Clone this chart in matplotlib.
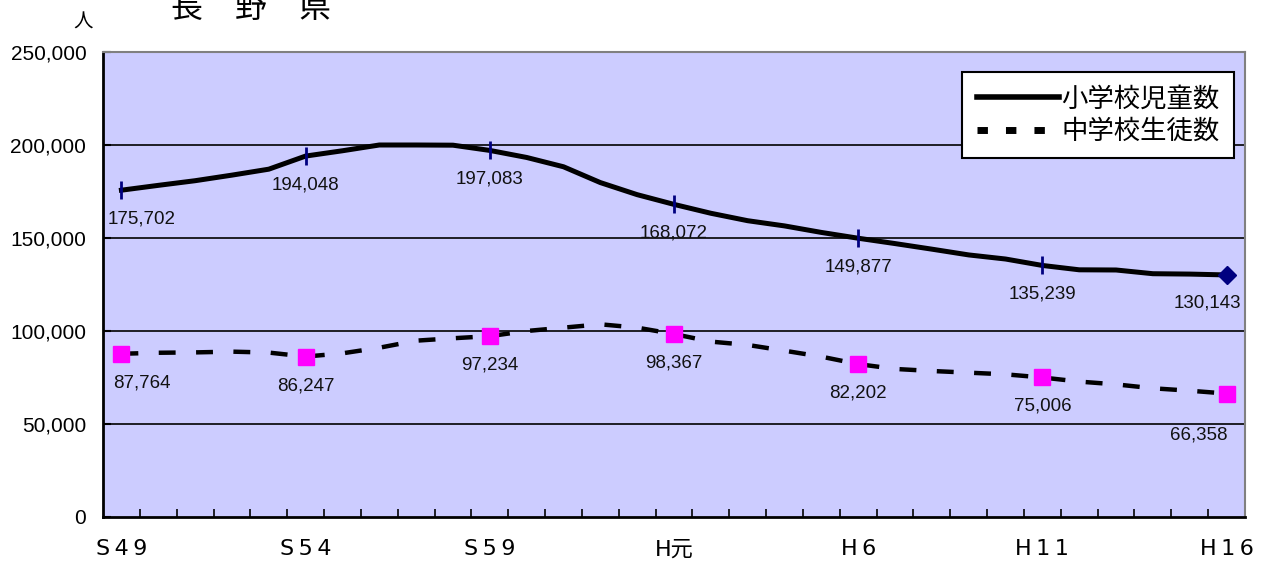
"""Nagano prefecture: elementary / junior high school enrolment, S49-H16."""

import matplotlib

matplotlib.use("Agg")
import matplotlib.pyplot as plt
import numpy as np
from matplotlib.lines import Line2D
from matplotlib.ticker import FuncFormatter

plt.rcParams["font.family"] = ["Liberation Sans", "Noto Sans CJK JP"]

# one value per year, S49 (1974) .. H16 (2004)
elementary = [
    175702, 178300, 180800, 183800, 187000, 194048, 196900, 200000, 200000, 199900,
    197083, 193300, 188300, 179800, 173300, 168072, 163300, 159300, 156500, 153000,
    149877, 147000, 144000, 140900, 138700, 135239, 132900, 132800, 130800, 130600,
    130143,
]
junior = [
    87764, 88300, 88500, 88900, 88400, 86247, 88000, 91000, 94800, 96100,
    97234, 100000, 101800, 103600, 101800, 98367, 94300, 92500, 89400, 86200,
    82202, 79600, 78500, 77600, 76700, 75006, 72800, 71300, 69200, 67900,
    66358,
]
tick_labels = ["S\u20094\u20099", "S\u20095\u20094", "S\u20095\u20099", "H元",
               "H\u20096", "H\u20091\u20091", "H\u20091\u20096"]
series_names = ["小学校児童数", "中学校生徒数"]

W, H = 1265, 562
fig = plt.figure(figsize=(W / 100, H / 100), dpi=100)
ax = fig.add_axes([103 / W, 1 - 517 / H, (1245 - 103) / W, (517 - 52) / H])
ax.set_facecolor("#CCCCFF")

years = np.arange(len(elementary))
labeled = years[::5]

ax.plot(years, elementary, color="black", lw=3.6, solid_joinstyle="round", zorder=3)
ax.plot(years, junior, color="black", lw=3.2, linestyle=(0, (3.8, 4.6)), zorder=3)
ax.plot(labeled[:-1], np.array(elementary)[labeled[:-1]], ls="none", marker="|",
        ms=13, mew=2, color="#000080", zorder=4)
ax.plot(labeled[-1], elementary[labeled[-1]], ls="none", marker="D", ms=9,
        color="#000080", zorder=4)
ax.plot(labeled, np.array(junior)[labeled], ls="none", marker="s", ms=12,
        color="#FF00FF", zorder=4)

for series, last_dx, last_dy in [(elementary, -19, -28), (junior, -28, -41)]:
    for i in labeled:
        dx, dy = 0, -29
        if i == labeled[0]:
            dx = 20
        elif i == labeled[-1]:
            dx, dy = last_dx, last_dy
        ax.annotate(f"{series[i]:,}", (i, series[i]), xytext=(dx, dy),
                    textcoords="offset pixels", ha="center", va="center",
                    fontsize=13.5, color="#111111", zorder=5)

ax.set_xlim(-0.5, 30.5)
ax.set_ylim(0, 250000)
ax.set_yticks(np.arange(0, 250001, 50000))
ax.yaxis.set_major_formatter(FuncFormatter(lambda v, _: f"{int(v):,}"))
ax.tick_params(axis="y", direction="in", length=6, width=1.5, labelsize=15, pad=12)
ax.set_xticks(labeled)
ax.set_xticklabels(tick_labels, fontsize=16,
                   fontfamily=["DejaVu Sans", "Noto Sans CJK JP"])
ax.set_xticks(np.arange(0.5, 30, 1), minor=True)
ax.tick_params(axis="x", which="major", length=0, pad=16)
ax.tick_params(axis="x", which="minor", direction="in", length=6, width=1.2)
for y in range(50000, 250000, 50000):
    ax.axhline(y, color="black", lw=1.2, zorder=1)

for side in ("top", "right"):
    ax.spines[side].set_color("#808080")
    ax.spines[side].set_linewidth(1.5)
for side in ("left", "bottom"):
    ax.spines[side].set_color("black")
    ax.spines[side].set_linewidth(2)

handles = [
    Line2D([], [], color="black", lw=4),
    Line2D([], [], color="black", lw=5, linestyle=(0, (1.5, 2.6))),
]
leg = ax.legend(handles, series_names, loc="upper right",
                bbox_to_anchor=(1234 / W, 1 - 72 / H), bbox_transform=fig.transFigure,
                fontsize=19, frameon=True, fancybox=False, framealpha=1,
                edgecolor="black", handlelength=3.1, handletextpad=0.1,
                borderpad=0.55, labelspacing=0.3, borderaxespad=0)
leg.get_frame().set_linewidth(1.5)

fig.text(251 / W, 1 - 8 / H, "長　野　県", fontsize=23, ha="center", va="center",
         fontfamily=["Noto Sans CJK JP"])
fig.text(83 / W, 1 - 22 / H, "人", fontsize=14, ha="center", va="center",
         fontfamily=["Noto Sans CJK JP"])

fig.savefig("out.png", dpi=100)
